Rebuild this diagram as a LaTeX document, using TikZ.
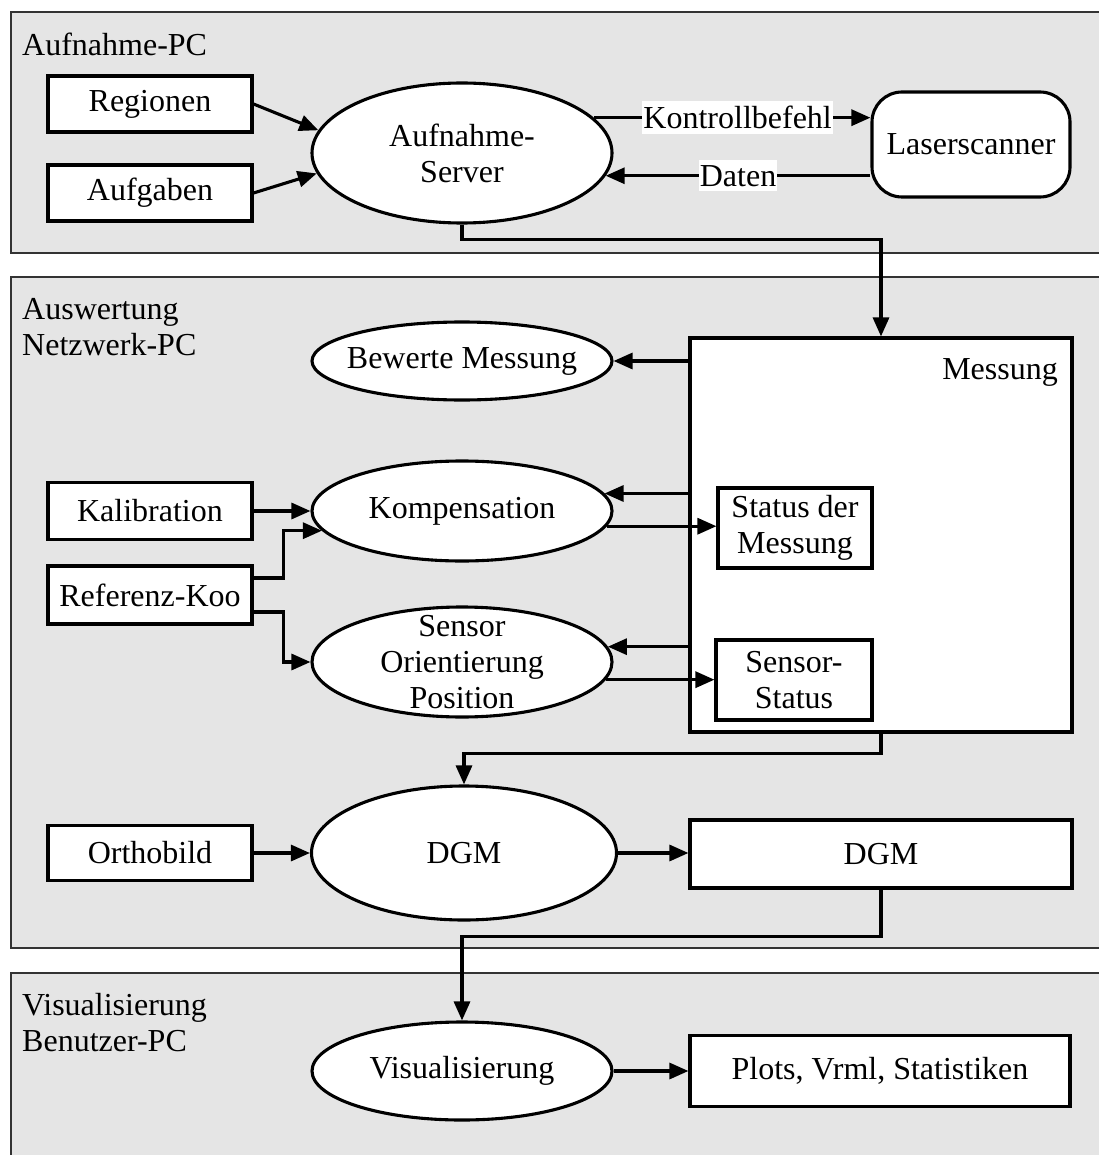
\documentclass[tikz,border=0pt]{standalone}
\usepackage{fontspec}
\setmainfont{Liberation Serif}
\usetikzlibrary{arrows.meta,shapes.geometric}
\begin{document}
\begin{tikzpicture}[x=1pt,y=-1pt,
  font=\fontsize{32}{36}\selectfont,
  panel/.style={draw=black!80,line width=1.5pt,fill=black!10},
  box/.style={draw,line width=3.1pt,fill=white,inner sep=0pt,align=center},
  oval/.style={ellipse,draw,line width=3.1pt,fill=white,inner xsep=-12pt,inner ysep=0pt,align=center},
  arr/.style={line width=3.1pt,-{Triangle[length=19pt,width=16pt]}},
  lbl/.style={fill=white,inner xsep=1pt,inner ysep=5pt},
  ptitle/.style={anchor=north west,inner sep=0pt,align=left}]
\useasboundingbox (0,0) rectangle (1098,1155);
% panels
\draw[panel] (11,12) rectangle (1110,253);
\draw[panel] (11,277) rectangle (1110,948);
\draw[panel] (11,973) rectangle (1110,1170);
\node[ptitle] (t1) at (22,33) {Aufnahme-PC};
\node[ptitle] (t2) at (22,298) {Auswertung\\Netzwerk-PC};
\node[ptitle] (t3) at (22,993) {Visualisierung\\Benutzer-PC};
% panel 1
\node[box,minimum width=204pt,minimum height=56pt] (reg) at (150,104) {Regionen};
\node[box,minimum width=204pt,minimum height=56pt] (aufg) at (150,193) {Aufgaben};
\node[oval,minimum width=300pt,minimum height=140pt] (srv) at (462,153) {Aufnahme-\\Server};
\node[box,rounded corners=30pt,minimum width=198pt,minimum height=105pt] (laser) at (971,144.5) {Laserscanner};
\draw[arr] (reg.east) -- (srv.171);
\draw[arr] (aufg.east) -- (srv.188);
\draw[arr] (srv.15.1) -- (srv.15.1 -| laser.west) node[lbl,pos=0.52] (kb) {Kontrollbefehl};
\draw[arr] (srv.-9.7 -| laser.west) -- (srv.-9.7) node[lbl,pos=0.5] (dt) {Daten};
% panel 2
\node[oval,minimum width=300pt,minimum height=78pt] (bew) at (462,361) {Bewerte Messung};
\node[box,minimum width=382pt,minimum height=394pt] (mess) at (881,535) {};
\node[anchor=base east,inner sep=0pt] (messlbl) at (1058,379) {Messung};
\node[box,minimum width=204pt,minimum height=57pt] (kal) at (150,511) {Kalibration};
\node[box,minimum width=204pt,minimum height=58pt] (ref) at (150,595) {Referenz-Koo};
\node[oval,minimum width=300pt,minimum height=100pt] (komp) at (462,511) {Kompensation};
\node[oval,inner ysep=-13pt,minimum width=300pt,minimum height=110pt] (sens) at (462,662) {Sensor\\Orientierung\\Position};
\node[box,minimum width=154pt,minimum height=80pt] (stat) at (795,528) {Status der\\Messung};
\node[box,minimum width=156pt,minimum height=80pt] (sstat) at (794,680) {Sensor-\\Status};
\node[box,minimum width=204pt,minimum height=55pt] (orth) at (150,853) {Orthobild};
\node[oval,minimum width=305pt,minimum height=134pt] (dgm) at (464,853) {DGM};
\node[box,minimum width=382pt,minimum height=68pt] (dgmb) at (881,854) {DGM};
% panel 3
\node[oval,minimum width=300pt,minimum height=98pt] (vis) at (462,1071) {Visualisierung};
\node[box,minimum width=380pt,minimum height=71pt] (plots) at (880,1071) {Plots, Vrml, Statistiken};
% connectors
\draw[arr] (srv.south) -- ++(0,15) -| (mess.north);
\draw[arr] (mess.west |- bew.east) -- (bew.east);
\draw[arr] (kal.east) -- (komp.west);
\draw[arr] ([yshift=17pt]ref.east) -- ++(30,0) |- (komp.188.3);
\draw[arr] ([yshift=-17pt]ref.east) -- ++(30,0) |- (sens.west);
\draw[arr] (komp.7.3 -| mess.west) -- (komp.7.3);
\draw[arr] (komp.-6.9) -- (komp.-6.9 -| stat.west);
\draw[arr] (sens.6.8 -| mess.west) -- (sens.6.8);
\draw[arr] (sens.-7.7) -- (sens.-7.7 -| sstat.west);
\draw[arr] (mess.south) -- ++(0,20) -| (dgm.north);
\draw[arr] (orth.east) -- (dgm.west);
\draw[arr] (dgm.east) -- (dgm.east -| dgmb.west);
\draw[arr] (dgmb.south) -- ++(0,47) -| (vis.north);
\draw[arr] (vis.east) -- (plots.west);
\end{tikzpicture}
\end{document}
